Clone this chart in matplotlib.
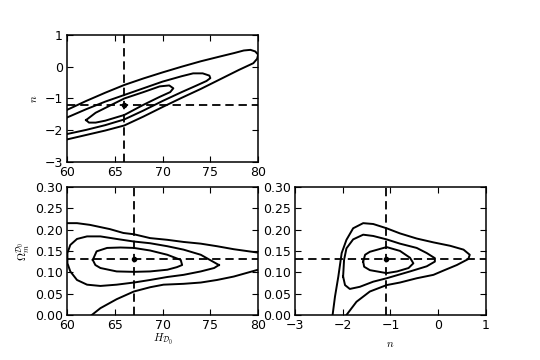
import numpy as np
import matplotlib
matplotlib.use("Agg")
import matplotlib.pyplot as plt

plt.rcParams['mathtext.fontset'] = 'cm'
plt.rcParams['lines.scale_dashes'] = False

# best-fit values (marker + dashed cross-hairs)
H_fit_top, n_fit_top = 66.0, -1.22
H_fit, om_fit = 67.0, 0.13
n_fit = -1.1

# ---- H vs n contours (top panel)
Hn_outer_x = [60, 62, 64, 66, 68, 70, 72, 74, 76, 77.5, 78.5, 79.2, 79.7, 80.0,
              79.9, 79.5, 78, 76, 74, 72, 70, 68, 66, 64, 62, 60]
Hn_outer_y = [-1.36, -1.08, -0.82, -0.575, -0.37, -0.18, 0.0, 0.17, 0.32, 0.43, 0.51, 0.53, 0.48, 0.38,
              0.25, 0.11, -0.10, -0.40, -0.70, -0.98, -1.27, -1.57, -1.85, -2.01, -2.15, -2.29]
Hn_mid_x = [60, 62, 64, 66, 68, 70, 72, 73.2, 74.2, 74.9, 75.0, 74.6, 73.5, 72, 70, 68, 66, 64, 62, 60]
Hn_mid_y = [-1.60, -1.34, -1.10, -0.89, -0.68, -0.47, -0.30, -0.21, -0.21, -0.28, -0.36, -0.45, -0.60,
            -0.80, -1.08, -1.38, -1.66, -1.84, -1.99, -2.12]
Hn_in_x = [62.0, 63, 64, 66, 68, 69.7, 70.7, 71.13, 70.8, 69.7, 68, 66, 64, 63, 62.3, 62.0]
Hn_in_y = [-1.68, -1.45, -1.30, -1.00, -0.80, -0.62, -0.59, -0.68, -0.80, -0.95, -1.20, -1.52, -1.70,
           -1.76, -1.76, -1.68]

# ---- H vs Omega_m contours (bottom left)
Ho_outer_up_x = [60, 61.05, 62.4, 64.5, 65.9, 67.0, 68.7, 70.5, 72.2, 74.0, 75.7, 77.45, 80]
Ho_outer_up_y = [0.215, 0.215, 0.211, 0.201, 0.192, 0.189, 0.180, 0.176, 0.171, 0.167, 0.161, 0.154, 0.146]
Ho_outer_lo_x = [62.6, 63.5, 65.2, 67.0, 68.7, 70.1, 72.2, 74.0, 75.7, 77.45, 80]
Ho_outer_lo_y = [0.0, 0.016, 0.037, 0.055, 0.065, 0.071, 0.073, 0.076, 0.082, 0.090, 0.106]
Ho_mid_x = [75.9, 74.0, 72.2, 70.5, 68.7, 67.0, 65.2, 63.5, 62.1, 61.05, 60.35, 60.05, 60.05, 60.35,
            61.05, 62.1, 63.5, 65.2, 67.0, 68.7, 70.5, 72.2, 74.0, 75.4, 75.9]
Ho_mid_y = [0.117, 0.141, 0.153, 0.161, 0.168, 0.172, 0.178, 0.184, 0.184, 0.178, 0.164, 0.145, 0.121, 0.102,
            0.082, 0.071, 0.068, 0.071, 0.076, 0.082, 0.089, 0.094, 0.102, 0.110, 0.117]
Ho_in_x = [62.7, 63.1, 64.2, 65.6, 67.0, 68.7, 70.5, 71.9, 72.05, 71.5, 70.5, 68.7, 67.0, 65.2, 63.5, 62.97, 62.7]
Ho_in_y = [0.129, 0.149, 0.157, 0.158, 0.157, 0.151, 0.141, 0.129, 0.117, 0.112, 0.106, 0.102, 0.101, 0.102,
           0.110, 0.117, 0.129]

# ---- n vs Omega_m contours (bottom right)
no_outer_x = [-2.21, -2.16, -2.09, -2.02, -1.92, -1.78, -1.57, -1.36, -1.08, -0.80, -0.45,
              -0.10, 0.25, 0.53, 0.66, 0.63, 0.39, 0.11, -0.10, -0.45, -0.80, -1.08, -1.43, -1.71, -1.92]
no_outer_y = [0.0, 0.043, 0.090, 0.145, 0.176, 0.203, 0.215, 0.213, 0.203, 0.191, 0.179,
              0.170, 0.162, 0.153, 0.141, 0.131, 0.117, 0.104, 0.094, 0.086, 0.076, 0.070, 0.055, 0.031, 0.0]
no_mid_x = [-1.99, -1.97, -1.92, -1.78, -1.57, -1.36, -1.08, -0.80, -0.45, -0.24, -0.07, -0.07, -0.24, -0.59,
            -1.08, -1.36, -1.64, -1.85, -1.95, -1.99]
no_mid_y = [0.090, 0.129, 0.156, 0.177, 0.188, 0.185, 0.177, 0.167, 0.157, 0.145, 0.133, 0.125, 0.114, 0.102,
            0.086, 0.078, 0.066, 0.061, 0.070, 0.090]
no_in_x = [-1.57, -1.53, -1.43, -1.08, -0.80, -0.59, -0.52, -0.62, -0.86, -1.08, -1.43, -1.55, -1.57]
no_in_y = [0.125, 0.141, 0.148, 0.159, 0.150, 0.134, 0.121, 0.110, 0.102, 0.098, 0.105, 0.113, 0.125]

H_ticks = [60, 65, 70, 75, 80]
n_ticks = [-3, -2, -1, 0, 1]
om_ticks = [0.0, 0.05, 0.10, 0.15, 0.20, 0.25, 0.30]

fig = plt.figure(figsize=(5.4, 3.6), dpi=100, facecolor='white')
ax1 = fig.add_axes([0.124, 0.55, 0.354, 0.353])
ax2 = fig.add_axes([0.124, 0.125, 0.354, 0.356])
ax3 = fig.add_axes([0.546, 0.125, 0.354, 0.356])

lw = 1.4
dash = dict(color='k', ls='--', lw=1.3, dashes=(6, 3.5))

def style(ax):
    ax.tick_params(direction='in', top=True, right=True, length=4, width=0.8, labelsize=9, pad=3)
    for s in ax.spines.values():
        s.set_linewidth(1.1)

# top panel
for xs, ys in [(Hn_outer_x, Hn_outer_y), (Hn_mid_x, Hn_mid_y), (Hn_in_x, Hn_in_y)]:
    ax1.plot(xs, ys, 'k-', lw=lw)
ax1.axvline(H_fit_top, **dash)
ax1.axhline(n_fit_top, **dash)
ax1.plot([H_fit_top], [n_fit_top], 'ko', ms=3)
ax1.set_xlim(60, 80)
ax1.set_ylim(-3, 1)
ax1.set_xticks(H_ticks)
ax1.set_yticks(n_ticks)
ax1.set_ylabel(r'$n$', fontsize=8, labelpad=4)
style(ax1)

# bottom left
for xs, ys in [(Ho_outer_up_x, Ho_outer_up_y), (Ho_outer_lo_x, Ho_outer_lo_y),
               (Ho_mid_x, Ho_mid_y), (Ho_in_x, Ho_in_y)]:
    ax2.plot(xs, ys, 'k-', lw=lw)
ax2.axvline(H_fit, **dash)
ax2.axhline(om_fit, **dash)
ax2.plot([H_fit], [om_fit], 'ko', ms=3)
ax2.set_xlim(60, 80)
ax2.set_ylim(0, 0.3)
ax2.set_xticks(H_ticks)
ax2.set_yticks(om_ticks)
ax2.set_yticklabels(['%.2f' % v for v in om_ticks])
ax2.set_xlabel(r'$H_{\mathcal{D}_0}$', fontsize=8, labelpad=0)
ax2.set_ylabel(r'$\Omega_m^{\mathcal{D}_0}$', fontsize=8, labelpad=2)
style(ax2)

# bottom right
for xs, ys in [(no_outer_x, no_outer_y), (no_mid_x, no_mid_y), (no_in_x, no_in_y)]:
    ax3.plot(xs, ys, 'k-', lw=lw)
ax3.axvline(n_fit, **dash)
ax3.axhline(om_fit, **dash)
ax3.plot([n_fit], [om_fit], 'ko', ms=3)
ax3.set_xlim(-3, 1)
ax3.set_ylim(0, 0.3)
ax3.set_xticks(n_ticks)
ax3.set_yticks(om_ticks)
ax3.set_yticklabels(['%.2f' % v for v in om_ticks])
ax3.set_xlabel(r'$n$', fontsize=8, labelpad=5)
style(ax3)

fig.savefig('out.png', dpi=100, facecolor='white')
